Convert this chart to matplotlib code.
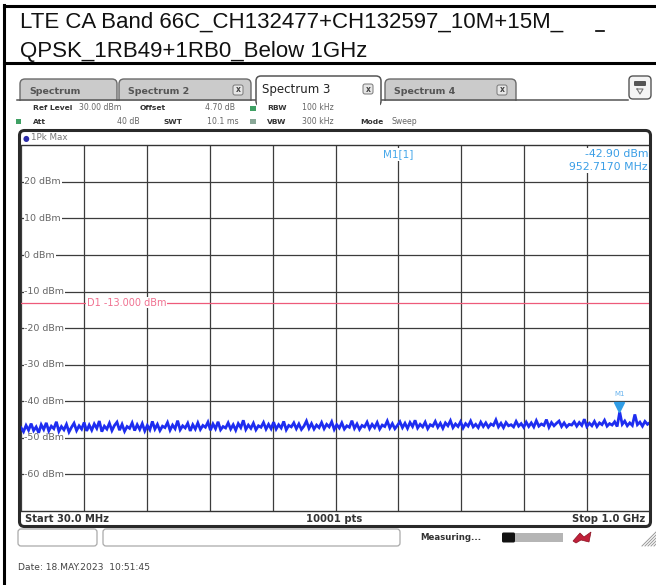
import numpy as np
import matplotlib
matplotlib.use('Agg')
import matplotlib.pyplot as plt
from matplotlib.patches import FancyBboxPatch, Polygon
from matplotlib.transforms import Affine2D, offset_copy, blended_transform_factory
from matplotlib.lines import Line2D

# ---------------- data ----------------
title_lines = ["LTE CA Band 66C_CH132477+CH132597_10M+15M_",
               "QPSK_1RB49+1RB0_Below 1GHz"]
tab_labels = ["Spectrum", "Spectrum 2", "Spectrum 3", "Spectrum 4"]
start_freq_mhz = 30.0
stop_freq_mhz = 1000.0
ref_level_dbm = 30.0
bottom_level_dbm = -70.0
y_tick_levels = [20, 10, 0, -10, -20, -30, -40, -50, -60]
y_tick_labels = ["20 dBm", "10 dBm", "0 dBm", "-10 dBm", "-20 dBm",
                 "-30 dBm", "-40 dBm", "-50 dBm", "-60 dBm"]
display_line_level = -13.0
display_line_label = "D1 -13.000 dBm"
marker_freq_mhz = 952.717
marker_level_dbm = -42.90
marker_name = "M1[1]"
marker_level_text = "-42.90 dBm"
marker_freq_text = "952.7170 MHz"
start_text = "Start 30.0 MHz"
points_text = "10001 pts"
stop_text = "Stop 1.0 GHz"
date_text = "Date: 18.MAY.2023  10:51:45"
trace_dbm = [
    -47.2, -48.3, -46.6, -47.9, -46.1, -48.0, -47.0, -48.6, -46.4, -47.7, -45.9, -48.1, -46.8, -47.5, -45.6, -48.2, -46.9, -47.8, -46.3, -48.4, -47.1, -46.0, -48.0, -46.7, -47.6,
    -45.8, -48.1, -46.5, -47.9, -46.2, -47.4, -45.4, -48.3, -46.8, -47.6, -46.0, -48.0, -46.6, -45.7, -47.9, -46.3, -48.2, -46.9, -47.4, -45.9, -48.0, -46.4, -47.7, -46.1, -48.1,
    -46.6, -47.8, -45.5, -47.6, -46.3, -48.0, -46.8, -47.2, -45.8, -47.9, -46.5, -47.5, -45.3, -47.8, -46.7, -47.3, -46.0, -48.1, -46.4, -47.6, -45.9, -47.7, -46.6, -47.1, -45.7,
    -47.9, -46.2, -47.5, -45.6, -47.8, -46.9, -47.3, -45.9, -47.6, -46.4, -47.9, -46.1, -47.2, -45.2, -47.7, -46.5, -47.4, -46.0, -47.8, -46.7, -47.1, -45.8, -47.6, -46.3, -47.5,
    -45.7, -47.6, -46.4, -47.3, -45.5, -47.8, -46.6, -47.0, -45.9, -47.5, -46.2, -47.7, -46.8, -45.4, -47.4, -46.1, -47.6, -46.5, -47.2, -45.8, -47.5, -46.3, -47.0, -45.6, -47.7,
    -46.4, -47.3, -45.9, -47.6, -46.7, -47.1, -45.3, -47.4, -46.2, -47.7, -46.6, -47.0, -45.7, -47.5, -46.3, -47.2, -45.8, -47.6, -46.5, -46.9, -45.4, -47.3, -46.1, -47.5, -46.6,
    -45.6, -47.2, -46.0, -47.4, -45.8, -46.9, -45.2, -47.3, -46.3, -47.0, -45.7, -47.5, -46.4, -46.8, -45.5, -47.1, -46.0, -47.4, -45.9, -46.7, -45.3, -47.2, -46.2, -46.9, -45.6,
    -47.3, -46.1, -46.8, -45.4, -47.0, -46.3, -47.2, -45.7, -46.9, -45.9, -47.1, -46.2, -46.6, -45.1, -47.0, -46.0, -47.2, -45.8, -46.7, -46.4, -47.0, -45.5, -46.8, -46.1, -47.1,
    -45.7, -46.9, -45.9, -47.0, -45.3, -46.8, -46.2, -46.6, -45.0, -47.1, -45.8, -46.7, -46.0, -45.4, -46.9, -45.9, -47.0, -46.3, -46.5, -45.6, -46.8, -45.8, -46.6, -44.9, -46.9,
    -46.0, -46.7, -45.5, -46.9, -45.9, -46.4, -45.2, -46.8, -46.1, -46.5, -45.6, -46.9, -42.9, -46.3, -45.4, -46.7, -45.9, -46.6, -43.6, -46.4, -45.7, -46.8, -45.5, -46.3, -45.8,
]

# ---------------- figure ----------------
W, H = 656, 585
fig = plt.figure(figsize=(W / 100, H / 100), dpi=100)
fig.patch.set_facecolor('white')
px = Affine2D().scale(1.0 / W, -1.0 / H).translate(0, 1) + fig.transFigure

UI = 'DejaVu Sans'


def ptext(x, y, s, **kw):
    kw.setdefault('family', UI)
    return fig.text(x, y, s, transform=px, **kw)


def pline(xs, ys, **kw):
    ln = Line2D(xs, ys, transform=px, **kw)
    fig.add_artist(ln)
    return ln


def pbox(x0, y0, x1, y1, r=0.0, **kw):
    style = 'round,pad=0,rounding_size=%g' % r if r > 0 else 'square,pad=0'
    p = FancyBboxPatch((x0, y0), x1 - x0, y1 - y0, boxstyle=style, transform=px, **kw)
    fig.add_artist(p)
    return p


# ---- document table borders and title ----
pline([4, 656], [6, 6], color='black', lw=2.2)
pline([4, 656], [63, 63], color='black', lw=2.2)
pline([4, 4], [5, 585], color='black', lw=2.2)
pline([596, 604], [31, 31], color='black', lw=1.2)
ptext(20, 28, title_lines[0], family='Liberation Sans', fontsize=16, va='baseline', color='#111')
ptext(20, 57, title_lines[1], family='Liberation Sans', fontsize=16, va='baseline', color='#111')

# ---- tabs ----
tabs = [(19, 118, False), (118, 252, False), (255, 382, True), (384, 517, False)]
for (x0, x1, active), lab in zip(tabs, tab_labels):
    if active:
        continue
    pbox(x0 + 1, 79, x1 - 1, 106, r=5, facecolor='#cbcbcb', edgecolor='#6a6a6a', lw=1.0, zorder=2)
pbox(6, 100.5, 656, 131, facecolor='white', edgecolor='none', zorder=3)
pline([17, 256], [100, 100], color='#555', lw=1.1, zorder=4)
pline([381, 628], [100, 100], color='#555', lw=1.1, zorder=4)
pbox(256, 76, 381, 106, r=5, facecolor='white', edgecolor='#555', lw=1.1, zorder=4)
pbox(257, 100, 380, 108, facecolor='white', edgecolor='none', zorder=5)
for (x0, x1, active), lab in zip(tabs, tab_labels):
    if active:
        ptext(262, 89, lab, fontsize=8.5, color='#222', va='center', zorder=6)
    else:
        ptext(x0 + 10, 91, lab, fontsize=6.8, fontweight='bold', color='#555', va='center', zorder=6)
for cx, cy in [(238, 90), (368, 89), (502, 90)]:
    pbox(cx - 5, cy - 5, cx + 5, cy + 5, r=2, facecolor='#e6e6e6', edgecolor='#777', lw=0.7, zorder=6)
    ptext(cx, cy, 'x', fontsize=5.5, fontweight='bold', color='#444', ha='center', va='center', zorder=7)
pbox(629, 76, 651, 99, r=4, facecolor='#f4f4f4', edgecolor='#555', lw=1.0, zorder=6)
pbox(634, 81, 646, 86, r=1, facecolor='#555', edgecolor='none', zorder=7)
pline([637, 640, 643, 637], [89, 94, 89, 89], color='#777', lw=0.8, zorder=7)

# ---- header rows ----
hb = 5.4
hv = 5.6
ptext(33, 108, 'Ref Level', fontsize=hb, fontweight='bold', color='#333', va='center', zorder=6)
ptext(79, 108, '30.00 dBm', fontsize=hv, color='#666', va='center', zorder=6)
ptext(140, 108, 'Offset', fontsize=hb, fontweight='bold', color='#333', va='center', zorder=6)
ptext(205, 108, '4.70 dB', fontsize=hv, color='#666', va='center', zorder=6)
pbox(250, 105.5, 256, 110.5, facecolor='#3fa064', edgecolor='none', zorder=6)
ptext(267, 108, 'RBW', fontsize=hb, fontweight='bold', color='#333', va='center', zorder=6)
ptext(302, 108, '100 kHz', fontsize=hv, color='#666', va='center', zorder=6)
pbox(16, 119, 21, 124, facecolor='#3fa064', edgecolor='none', zorder=6)
ptext(33, 121.5, 'Att', fontsize=hb, fontweight='bold', color='#333', va='center', zorder=6)
ptext(117, 121.5, '40 dB', fontsize=hv, color='#666', va='center', zorder=6)
ptext(163, 121.5, 'SWT', fontsize=hb, fontweight='bold', color='#333', va='center', zorder=6)
ptext(207, 121.5, '10.1 ms', fontsize=hv, color='#666', va='center', zorder=6)
pbox(250, 119, 256, 124, facecolor='#8aa898', edgecolor='none', zorder=6)
ptext(267, 121.5, 'VBW', fontsize=hb, fontweight='bold', color='#333', va='center', zorder=6)
ptext(302, 121.5, '300 kHz', fontsize=hv, color='#666', va='center', zorder=6)
ptext(360, 121.5, 'Mode', fontsize=hb, fontweight='bold', color='#333', va='center', zorder=6)
ptext(392, 121.5, 'Sweep', fontsize=hv, color='#666', va='center', zorder=6)

# ---- main spectrum axes ----
ax_l, ax_r, ax_t, ax_b = 21.0, 650.0, 145.3, 511.0
ax = fig.add_axes([ax_l / W, 1 - ax_b / H, (ax_r - ax_l) / W, (ax_b - ax_t) / H])
ax.set_xlim(start_freq_mhz, stop_freq_mhz)
ax.set_ylim(bottom_level_dbm, ref_level_dbm)
ax.set_xticks(np.linspace(start_freq_mhz, stop_freq_mhz, 11))
ax.set_yticks(y_tick_levels)
ax.tick_params(length=0, labelbottom=False, labelleft=False)
ax.set_axisbelow(True)
ax.grid(True, color='#3c3c3c', lw=0.9)
for s in ['left', 'right']:
    ax.spines[s].set_visible(False)
for s in ['top', 'bottom']:
    ax.spines[s].set_color('#333')
    ax.spines[s].set_linewidth(1.0)

bl = blended_transform_factory(ax.transAxes, ax.transData)
for lvl, lab in zip(y_tick_levels, y_tick_labels):
    ax.text(0.0055, lvl, lab, transform=bl, fontsize=6.8, family=UI, color='#666',
            ha='left', va='center', zorder=1.2,
            bbox=dict(facecolor='white', edgecolor='none', pad=0.6))

ax.axhline(display_line_level, color='#ee5a7a', lw=0.9, zorder=1.1)
ax.text(0.105, display_line_level, display_line_label, transform=bl, fontsize=7, family=UI,
        color='#f07090', ha='left', va='center', zorder=1.2,
        bbox=dict(facecolor='white', edgecolor='none', pad=0.5))

freqs = np.linspace(start_freq_mhz, stop_freq_mhz, len(trace_dbm))
ax.plot(freqs, trace_dbm, color='#1e2df0', lw=2.0, zorder=2, solid_joinstyle='miter')

tri_tr = offset_copy(ax.transData, fig=fig, y=3.2, units='points')
ax.plot([marker_freq_mhz], [marker_level_dbm], marker='v', ms=6.5, color='#2f9de6',
        transform=tri_tr, zorder=3, clip_on=False)
ax.annotate('M1', (marker_freq_mhz, marker_level_dbm), xytext=(0, 11), textcoords='offset points',
            fontsize=5, family=UI, color='#6ab4ee', ha='center', va='bottom', zorder=3)

ax.text(0.575, 0.975, marker_name, transform=ax.transAxes, fontsize=7.5, family=UI,
        color='#47a8ea', ha='left', va='center', zorder=3,
        bbox=dict(facecolor='white', edgecolor='none', pad=0.8))
ax.text(0.997, 0.975, marker_level_text, transform=ax.transAxes, fontsize=7.8, family=UI,
        color='#3a9ee6', ha='right', va='center', zorder=3,
        bbox=dict(facecolor='white', edgecolor='none', pad=0.8))
ax.text(0.997, 0.94, marker_freq_text, transform=ax.transAxes, fontsize=7.8, family=UI,
        color='#3a9ee6', ha='right', va='center', zorder=3,
        bbox=dict(facecolor='white', edgecolor='none', pad=0.8))

# ---- frame around the diagram ----
pbox(19.5, 130.5, 650.5, 526.5, r=5, facecolor='none', edgecolor='#2a2a2a', lw=2.2, zorder=8)
ptext(23, 138, '\u25CF', fontsize=5.5, color='#2a2aa8', va='center', zorder=8)
ptext(31, 138, '1Pk Max', fontsize=6.3, color='#777', va='center', zorder=8)
ptext(25, 518.5, start_text, fontsize=7.2, fontweight='bold', color='#333', va='center', zorder=8)
ptext(334, 518.5, points_text, fontsize=7.2, fontweight='bold', color='#333', va='center', ha='center', zorder=8)
ptext(645, 518.5, stop_text, fontsize=7.2, fontweight='bold', color='#333', va='center', ha='right', zorder=8)

# ---- status bar ----
pbox(18, 529, 97, 546, r=3, facecolor='white', edgecolor='#aaaaaa', lw=0.9)
pbox(103, 529, 400, 546, r=3, facecolor='white', edgecolor='#aaaaaa', lw=0.9)
ptext(420, 537.5, 'Measuring...', fontsize=6.2, fontweight='bold', color='#333', va='center')
pbox(515, 533, 563, 542, facecolor='#b5b5b5', edgecolor='none')
pbox(502, 532.5, 515, 542.5, r=1.5, facecolor='#111', edgecolor='none')
fig.add_artist(Polygon([[573, 541], [580, 533], [584, 537], [591, 532], [589, 542], [581, 540], [576, 543]],
                       closed=True, transform=px, facecolor='#c0203a', edgecolor='#8a1020', lw=0.5))
for k in range(5):
    pline([642 + 3 * k, 656], [546, 546 - (14 - 3 * k)], color='#999', lw=0.7)

ptext(18, 567, date_text, fontsize=6.6, color='#444', va='center')

fig.savefig('out.png', dpi=100, facecolor='white')
